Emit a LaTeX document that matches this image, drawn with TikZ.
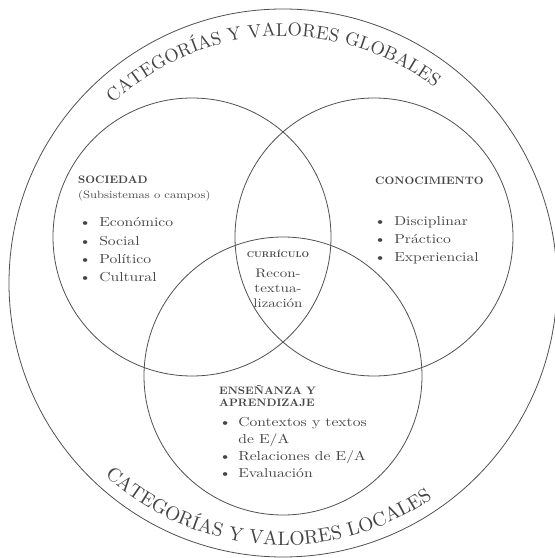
\documentclass[tikz,border=0pt]{standalone}
\usepackage{fontspec}
\setmainfont{lmroman10-regular}[Extension=.otf, BoldFont=lmroman10-bold, FakeStretch=1.2]
\newfontfamily\arcfont{lmroman10-regular}[Extension=.otf]
\newfontfamily\headfont{lmroman10-bold}[Extension=.otf, FakeStretch=1.05]
\usetikzlibrary{decorations.text}
\definecolor{inkgray}{HTML}{454545}
\definecolor{linegray}{HTML}{505050}

\begin{document}
\begin{tikzpicture}[x=1pt, y=1pt]
  \tikzset{
    ring/.style={draw=linegray, line width=0.8pt},
    heading/.style={anchor=base west, inner sep=0pt, text=inkgray, font=\headfont\fontsize{10.8}{12}\selectfont},
    subhead/.style={anchor=base west, inner sep=0pt, text=inkgray, font=\fontsize{10.5}{12}\selectfont},
    bullets/.style={anchor=base west, inner sep=0pt, text=inkgray, font=\fontsize{13}{#1}\selectfont},
    arctext/.style={decorate, decoration={text along path, text align=center, text color=inkgray, text={#1}}}
  }
  \useasboundingbox (0,0) rectangle (555,558);

  % outer ring and the three overlapping circles
  \draw[ring] (283,275) circle[radius=274];
  \draw[ring] (192,321) circle[radius=139];
  \draw[ring] (374,321) circle[radius=139];
  \draw[ring] (283,182) circle[radius=139];

  % curved titles
  \path[arctext={|\arcfont\fontsize{18.5}{20}\selectfont|CATEGORÍAS Y VALORES GLOBALES}]
    (283,275) ++(150:247) arc[start angle=150, end angle=35.6, radius=247];
  \path[arctext={|\arcfont\fontsize{19.5}{20}\selectfont|CATEGORÍAS Y VALORES LOCALES}]
    (283,275) ++(206:262) arc[start angle=206, end angle=326, radius=262];

  % sociedad
  \node[heading] (soc) at (78,374) {SOCIEDAD};
  \node[subhead] (socsub) at (78,359) {(Subsistemas o campos)};
  \node[bullets=18.3] (soclist) at (79,331) {\begin{tabular}[t]{@{}l@{\hspace{8pt}}l@{}}
    \textbullet & Económico\\
    \textbullet & Social\\
    \textbullet & Político\\
    \textbullet & Cultural
  \end{tabular}};

  % conocimiento
  \node[heading] (con) at (375,373) {CONOCIMIENTO};
  \node[bullets=18] (conlist) at (374,332) {\begin{tabular}[t]{@{}l@{\hspace{8pt}}l@{}}
    \textbullet & Disciplinar\\
    \textbullet & Práctico\\
    \textbullet & Experiencial
  \end{tabular}};

  % curriculo (centre)
  \node[heading, anchor=base, font=\headfont\fontsize{8.3}{10}\selectfont] (cur) at (278,300) {CURRÍCULO};
  \node[anchor=base, inner sep=0pt, text=inkgray, font=\fontsize{12.5}{15}\selectfont] (curtext) at (278,280)
    {\begin{tabular}[t]{@{}c@{}}Recon-\\textua-\\lización\end{tabular}};

  % enseñanza y aprendizaje
  \node[heading] (ens) at (219,163) {\begin{tabular}[t]{@{}l@{}}ENSEÑANZA Y\\APRENDIZAJE\end{tabular}};
  \node[bullets=16.7] (enslist) at (219,131) {\begin{tabular}[t]{@{}l@{\hspace{7pt}}l@{}}
    \textbullet & Contextos y textos\\
                & de E/A\\
    \textbullet & Relaciones de E/A\\
    \textbullet & Evaluación
  \end{tabular}};
\end{tikzpicture}
\end{document}
